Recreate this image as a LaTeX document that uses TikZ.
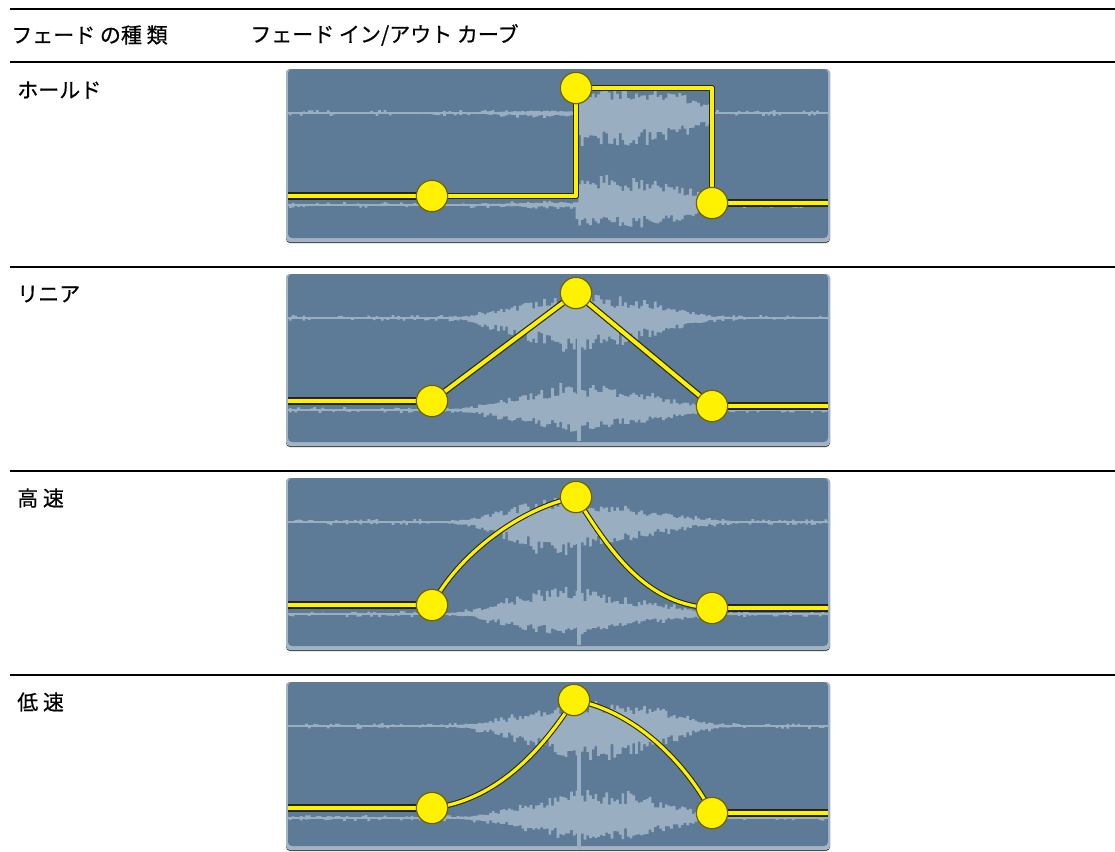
\documentclass[tikz,border=0pt]{standalone}
\usepackage{fontspec}
\newfontfamily\jp[FakeBold=0.6]{Noto Sans CJK JP}
\pgfdeclarelayer{bg}
\pgfdeclarelayer{mid}
\pgfsetlayers{bg,mid,main}
\definecolor{pmain}{HTML}{5D7B97}
\definecolor{pedge}{HTML}{A3B4C5}
\definecolor{pshadow}{HTML}{3A4148}
\definecolor{wavec}{HTML}{9AAEC2}
\definecolor{hy}{HTML}{FFF200}
\definecolor{hyd}{HTML}{6E6200}
\definecolor{ydark}{HTML}{26260E}
\tikzset{
  rulel/.style={line width=1.5pt, black},
  lbl/.style={font=\jp\fontsize{15.75pt}{18pt}\selectfont, anchor=west, inner sep=0pt},
  handle/.style={circle, fill=hy, draw=hyd, line width=0.9pt, minimum size=23.5pt, inner sep=0pt},
  ythick/.style={draw=ydark, double=hy, double distance=3pt, line width=0.9pt, line join=round},
  ythin/.style={draw=ydark, double=hy, double distance=2.4pt, line width=0.8pt, line join=round},
  yedge/.style={draw=ydark, double=hy, double distance=3.2pt, line width=1.1pt},
  wave/.style={fill=wavec},
  waveline/.style={draw=wavec, line width=1pt},
  declare function={
    env(\x)=exp(-((\x-595)/110)*((\x-595)/110)*((\x-595)/110)*((\x-595)/110));
    ghold(\x)=0.1+0.9*(\x>=576)*(\x<=712);
    glin(\x)=0.3+0.7*max(0,min((\x-432)/144,(712-\x)/136));
    gfast(\x)=0.3+0.7*((\x<576)*sin(90*max(0,(\x-432)/144))+(\x>=576)*(1-min(1,(\x-576)/136))^2);
    gslow(\x)=0.3+0.7*((\x<576)*(max(0,(\x-432)/144))^2+(\x>=576)*(1-(min(1,(\x-576)/136))^2));
  }
}
% #1 top, #2 bottom, #3 gain function
\newcommand\mypanel[3]{%
  \begin{pgfonlayer}{bg}
    \fill[pshadow, rounded corners=3pt] (286,#1) rectangle (830,#2);
    \fill[pedge, rounded corners=3pt] (286,#1) rectangle (830,{#2-1});
    \fill[pmain, rounded corners=3pt] (288,#1) rectangle (828,{#2-5});
    \draw[waveline] (288,{#1+44}) -- (828,{#1+44});
    \draw[waveline] (288,{#1+136}) -- (828,{#1+136});
    \fill[wave] plot[const plot, domain=289:827,samples=200]
      (\x,{#1+44-(max(1,(2+24*env(\x))*#3(\x))+2*(rnd>0.75))*(0.5+0.5*rnd)})
      -- plot[const plot, domain=827:289,samples=200]
      (\x,{#1+44+(max(1,(2+32*env(\x))*#3(\x))+2*(rnd>0.75))*(0.5+0.5*rnd)}) -- cycle;
    \fill[wave] plot[const plot, domain=289:827,samples=200]
      (\x,{#1+136-(max(1,(2+26*env(\x))*#3(\x))+2*(rnd>0.75))*(0.5+0.5*rnd)})
      -- plot[const plot, domain=827:289,samples=200]
      (\x,{#1+136+(max(1,(2+20*env(\x))*#3(\x))+2*(rnd>0.75))*(0.5+0.5*rnd)}) -- cycle;
  \end{pgfonlayer}}
\newcommand\myspike[1]{%
  \begin{pgfonlayer}{bg}
    \fill[wave] (577,{#1+60}) rectangle (581,{#1+167});
  \end{pgfonlayer}}
\begin{document}
\begin{tikzpicture}[x=0.75pt,y=-0.75pt]
\pgfmathsetseed{7}
\useasboundingbox (0,0) rectangle (1115,851);
% rules
\draw[rulel] (10,9) -- (1115,9);
\draw[rulel] (10,62) -- (1115,62);
\draw[rulel] (10,267) -- (1115,267);
\draw[rulel] (10,471) -- (1115,471);
\draw[rulel] (10,675) -- (1115,675);
% header
\node[lbl] (h1) at (11,35) {フェード の種 類};
\node[lbl] (h2) at (250,35) {フェード イン/アウト カーブ};
% row labels
\node[lbl] (r1) at (17,90) {ホールド};
\node[lbl] (r2) at (17,294) {リニア};
\node[lbl] (r3) at (17,498) {高 速};
\node[lbl] (r4) at (17,702) {低 速};

% ---------- panel 1: hold
\mypanel{69}{243}{ghold}
\node[handle] (a1) at (432,196) {};
\node[handle] (a2) at (576,88) {};
\node[handle] (a3) at (712,203) {};
\coordinate (ae1) at (288,196);
\coordinate (ae2) at (828,203);
\begin{pgfonlayer}{mid}
  \draw[yedge] (ae1) -- (a1.center);
  \draw[yedge] (a3.center) -- (ae2);
  \draw[ythick] (a1.center) -- (a2.center |- a1.center) -- (a2.center) -- (a3.center |- a2.center) -- (a3.center);
\end{pgfonlayer}

% ---------- panel 2: linear
\mypanel{274}{447}{glin}
\myspike{274}
\node[handle] (b1) at (432,401) {};
\node[handle] (b2) at (576,293) {};
\node[handle] (b3) at (712,406) {};
\coordinate (be1) at (288,401);
\coordinate (be2) at (828,406);
\begin{pgfonlayer}{mid}
  \draw[yedge] (be1) -- (b1.center);
  \draw[yedge] (b3.center) -- (be2);
  \draw[ythick] (b1.center) -- (b2.center) -- (b3.center);
\end{pgfonlayer}

% ---------- panel 3: fast
\mypanel{478}{651}{gfast}
\myspike{478}
\node[handle] (c1) at (432,605) {};
\node[handle] (c2) at (576,497) {};
\node[handle] (c3) at (712,608) {};
\coordinate (ce1) at (288,605);
\coordinate (ce2) at (828,608);
\begin{pgfonlayer}{mid}
  \draw[yedge] (ce1) -- (c1.center);
  \draw[yedge] (c3.center) -- (ce2);
  \draw[ythin] (c1.center) .. controls (458,555) and (520,508) .. (c2.center);
  \draw[ythin] (c2.center) .. controls (615,560) and (650,605) .. (c3.center);
\end{pgfonlayer}

% ---------- panel 4: slow
\mypanel{682}{851}{gslow}
\myspike{682}
\node[handle] (d1) at (432,808) {};
\node[handle] (d2) at (574,700) {};
\node[handle] (d3) at (712,813) {};
\coordinate (de1) at (288,808);
\coordinate (de2) at (828,813);
\begin{pgfonlayer}{mid}
  \draw[yedge] (de1) -- (d1.center);
  \draw[yedge] (d3.center) -- (de2);
  \draw[ythin] (d1.center) .. controls (500,800) and (545,745) .. (d2.center);
  \draw[ythin] (d2.center) .. controls (640,712) and (690,770) .. (d3.center);
\end{pgfonlayer}
\end{tikzpicture}
\end{document}
